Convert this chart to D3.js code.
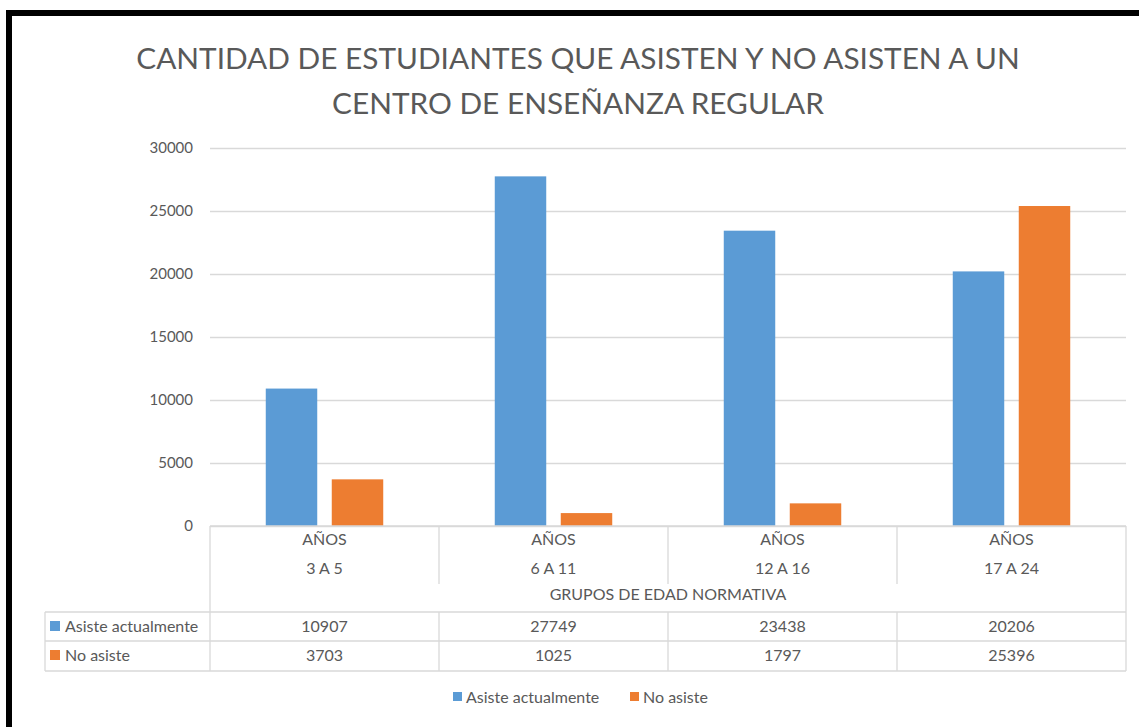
<!DOCTYPE html>
<html><head><meta charset="utf-8">
<script src="https://cdn.jsdelivr.net/npm/d3@7"></script>
<style>
body{margin:0;background:#fff;}
svg{display:block;font-family:Lato, "Open Sans", sans-serif;}
</style></head>
<body><svg id="c" width="1139" height="727"></svg>
<script>
const categories = ["3 A 5", "6 A 11", "12 A 16", "17 A 24"];
const categoryPrefix = "AÑOS";
const seriesNames = ["Asiste actualmente", "No asiste"];
const asiste = [10907, 27749, 23438, 20206];
const noAsiste = [3703, 1025, 1797, 25396];
const yTicks = [0, 5000, 10000, 15000, 20000, 25000, 30000];
const titleLines = ["CANTIDAD DE ESTUDIANTES QUE ASISTEN Y NO ASISTEN A UN", "CENTRO DE ENSEÑANZA REGULAR"];
const axisTitle = "GRUPOS DE EDAD NORMATIVA";

const colors = ["#5B9BD5", "#ED7D31"];
const seriesValues = [asiste, noAsiste];
const textCol = "#595959", gridCol = "#D9D9D9";
const fs = 16;

const svg = d3.select("#c");
// frame
svg.append("rect").attr("x", 9).attr("y", 13).attr("width", 1140).attr("height", 730)
  .attr("fill", "none").attr("stroke", "#000").attr("stroke-width", 6);

const L = 210, R = 1126, T = 148, B = 526;
const y = d3.scaleLinear().domain([0, 30000]).range([B, T]);
const x0 = d3.scaleBand().domain(categories).range([L, R]).padding(0);
const x1 = d3.scaleBand().domain(seriesNames).range([0, x0.bandwidth()]).paddingInner(0.22).paddingOuter(0.845);

// title
svg.append("g").selectAll("text").data(titleLines).join("text")
  .attr("x", 578).attr("y", (d, i) => 69 + i * 45).attr("text-anchor", "middle")
  .attr("fill", textCol).attr("font-size", 29.8).text(d => d);

// gridlines & y labels
const yAxis = d3.axisLeft(y).tickValues(yTicks).tickFormat(d3.format("d")).tickSize(-(R - L)).tickPadding(17);
const ga = svg.append("g").attr("transform", `translate(${L},0)`).call(yAxis);
ga.select(".domain").remove();
ga.selectAll(".tick line").attr("stroke", gridCol).attr("stroke-width", 1.3);
ga.selectAll(".tick text").attr("fill", textCol).attr("font-size", 15).attr("font-family", "Lato, sans-serif");

// bars
const gBars = svg.append("g");
categories.forEach((c, ci) => {
  seriesNames.forEach((s, si) => {
    const v = seriesValues[si][ci];
    gBars.append("rect")
      .attr("x", x0(c) + x1(s)).attr("width", x1.bandwidth())
      .attr("y", y(v)).attr("height", y(0) - y(v))
      .attr("fill", colors[si]);
  });
});

// table
const rowY = [612, 641, 671];
const TL = 45;
const tl = svg.append("g").attr("stroke", gridCol).attr("stroke-width", 1.3).attr("fill", "none");
tl.append("line").attr("x1", L).attr("x2", R).attr("y1", B).attr("y2", B);
rowY.forEach(yy => tl.append("line").attr("x1", TL).attr("x2", R).attr("y1", yy).attr("y2", yy));
tl.append("line").attr("x1", TL).attr("x2", TL).attr("y1", rowY[0]).attr("y2", rowY[2]);
tl.append("line").attr("x1", L).attr("x2", L).attr("y1", B).attr("y2", rowY[2]);
tl.append("line").attr("x1", R).attr("x2", R).attr("y1", B).attr("y2", rowY[2]);
categories.slice(0, -1).forEach(c => {
  const xx = x0(c) + x0.bandwidth();
  tl.append("line").attr("x1", xx).attr("x2", xx).attr("y1", B).attr("y2", 584);
  tl.append("line").attr("x1", xx).attr("x2", xx).attr("y1", rowY[0]).attr("y2", rowY[2]);
});

const tt = svg.append("g").attr("fill", textCol).attr("font-size", fs).attr("text-anchor", "middle");
categories.forEach((c, ci) => {
  const cx = x0(c) + x0.bandwidth() / 2;
  tt.append("text").attr("x", cx).attr("y", 545).text(categoryPrefix);
  tt.append("text").attr("x", cx).attr("y", 574).text(c);
  seriesNames.forEach((s, si) => {
    tt.append("text").attr("x", cx).attr("y", rowY[si] + 20).text(seriesValues[si][ci]);
  });
});
tt.append("text").attr("x", (L + R) / 2).attr("y", 600).text(axisTitle);

seriesNames.forEach((s, si) => {
  svg.append("rect").attr("x", 50).attr("y", rowY[si] + 9).attr("width", 10).attr("height", 10).attr("fill", colors[si]);
  svg.append("text").attr("x", 65).attr("y", rowY[si] + 20).attr("fill", textCol).attr("font-size", fs).text(s);
});

// legend
const legX = [453, 630];
seriesNames.forEach((s, si) => {
  svg.append("rect").attr("x", legX[si]).attr("y", 692).attr("width", 9).attr("height", 9).attr("fill", colors[si]);
  svg.append("text").attr("x", legX[si] + 13).attr("y", 703).attr("fill", textCol).attr("font-size", fs).text(s);
});
</script></body></html>
